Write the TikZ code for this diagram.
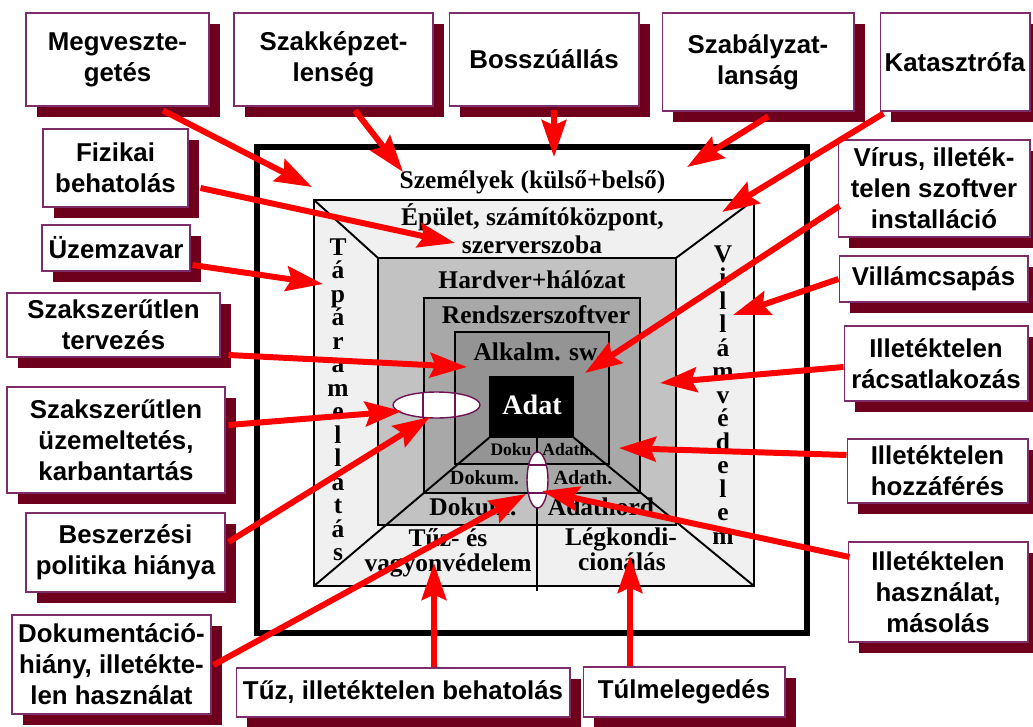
\documentclass[tikz,border=0pt]{standalone}
\usepackage{fontspec}
\setmainfont{Liberation Serif}
\newfontfamily\labelfont{Liberation Sans}
\usetikzlibrary{arrows.meta,calc,shadows,shapes.geometric}

\definecolor{shadowred}{RGB}{110,0,30}
\definecolor{edgepurple}{RGB}{125,45,105}
\definecolor{ringpurple}{RGB}{110,20,85}
\definecolor{layerA}{gray}{0.94}
\definecolor{layerB}{gray}{0.76}
\definecolor{layerC}{gray}{0.66}
\definecolor{layerD}{gray}{0.58}

\tikzstyle{cause} = [rectangle, draw=edgepurple, line width=0.6pt, fill=white,
    align=center, inner sep=0pt, font=\labelfont\bfseries\fontsize{14.7}{17.7}\selectfont,
    drop shadow={shadow xshift=0.22cm, shadow yshift=-0.22cm, fill=shadowred, opacity=1}]
\tikzstyle{threat} = [draw=red, line width=3.4pt, -{Stealth[length=21pt,width=14pt,inset=3pt]}]
\tikzstyle{layertext} = [font=\bfseries\fontsize{14.5}{17}\selectfont, anchor=base, inner sep=0pt]
\tikzstyle{ring} = [ellipse, draw=ringpurple, line width=0.8pt, fill=white, inner sep=0pt]

\begin{document}
\begin{tikzpicture}[x=0.02cm, y=-0.02cm]
	\useasboundingbox (0,0) rectangle (1033,726);

	% layers of protection
	\draw[line width=3.2pt] (257,147) rectangle (807,633);
	\draw[line width=1.1pt, fill=layerA] (314,200) rectangle (754,586);
	\draw[line width=1.1pt, fill=layerB] (378,258) rectangle (676,525);
	\draw[line width=1.1pt, fill=layerC] (424,298) rectangle (640,493);
	\draw[line width=1.1pt, fill=layerD] (455,332) rectangle (609,464);
	\draw[line width=1.1pt, fill=black] (490,377) rectangle (573,437);

	\draw[line width=1.1pt] (314,200) -- (378,258);
	\draw[line width=1.1pt] (754,200) -- (676,258);
	\draw[line width=1.1pt] (490,437) -- (314,586);
	\draw[line width=1.1pt] (573,437) -- (754,586);
	\draw[line width=1.1pt] (537,437) -- (537,591);

	\node[layertext] (persons) at (532.5,189) {Személyek (külső+belső)};
	\node[layertext] (building1) at (532.5,225) {Épület, számítóközpont,};
	\node[layertext] (building2) at (532,253) {szerverszoba};
	\node[layertext] (hardware) at (532,288) {Hardver+hálózat};
	\node[layertext] (system) at (536,323) {Rendszerszoftver};
	\node[layertext] (apps) at (538,360) {Alkalm. sw.};
	\node[layertext, text=white, font=\bfseries\fontsize{16}{19}\selectfont] (data) at (532,414) {Adat};
	\node[layertext, font=\bfseries\fontsize{10}{12}\selectfont] (doc1) at (511,455) {Doku};
	\node[layertext, font=\bfseries\fontsize{10}{12}\selectfont] (arch1) at (568,455) {Adath.};
	\node[layertext, font=\bfseries\fontsize{11.5}{13}\selectfont] (doc2) at (484.5,484) {Dokum.};
	\node[layertext, font=\bfseries\fontsize{11.5}{13}\selectfont] (arch2) at (583,484) {Adath.};
	\node[layertext] (doc3) at (473,515) {Dokum.};
	\node[layertext] (arch3) at (601,515) {Adathord};
	\node[layertext] (fire1) at (448,546) {Tűz- és};
	\node[layertext] (fire2) at (448,571) {vagyonvédelem};
	\node[layertext] (air1) at (621,545) {Légkondi-};
	\node[layertext] (air2) at (622,570) {cionálás};

	\foreach \ch [count=\i] in {T,á,p,á,r,a,m,e,l,l,á,t,á,s}
		\node[layertext] (power\i) at (338,231.5+23.5*\i) {\ch};
	\foreach \ch [count=\i] in {V,i,l,l,á,m,v,é,d,e,l,e,m}
		\node[layertext] (guard\i) at (723,238.5+23.5*\i) {\ch};

	% weak points
	\node[ring, minimum width=1.74cm, minimum height=0.52cm] (hring) at (436.5,405) {};
	\begin{scope}
		\clip (436.5,405) ellipse [x radius=0.87cm, y radius=0.26cm];
		\draw[ringpurple, line width=0.8pt] (423,390) -- (423,420) (455,390) -- (455,420);
	\end{scope}
	\node[ring, minimum width=0.42cm, minimum height=1.12cm] (vring) at (537.5,480) {};
	\begin{scope}
		\clip (537.5,480) ellipse [x radius=0.21cm, y radius=0.56cm];
		\draw[ringpurple, line width=0.8pt] (525,465) -- (550,465) (525,493) -- (550,493);
	\end{scope}

	% threats
	\node[cause, minimum width=3.66cm, minimum height=1.86cm] (bribery) at (117.5,59.5) {Megveszte-\\getés};
	\node[cause, minimum width=3.98cm, minimum height=1.86cm] (unskilled) at (333.5,59.5) {Szakképzet-\\lenség};
	\node[cause, minimum width=3.80cm, minimum height=1.86cm] (revenge) at (544,59.5) {Bosszúállás};
	\node[cause, minimum width=3.84cm, minimum height=1.96cm] (noregs) at (758,62) {Szabályzat-\\lanság};
	\node[cause, minimum width=3.00cm, minimum height=1.96cm] (disaster) at (955,62) {Katasztrófa};
	\node[cause, minimum width=2.90cm, minimum height=1.56cm] (intrusion) at (115.5,168) {Fizikai\\behatolás};
	\node[cause, minimum width=3.84cm, minimum height=1.94cm] (virus) at (934,188.5) {Vírus, illeték-\\telen szoftver\\installáció};
	\node[cause, minimum width=2.96cm, minimum height=0.92cm] (outage) at (116,248) {Üzemzavar};
	\node[cause, minimum width=3.78cm, minimum height=0.92cm] (lightning) at (933.5,279) {Villámcsapás};
	\node[cause, minimum width=4.26cm, minimum height=1.28cm] (baddesign) at (113.5,325) {Szakszerűtlen\\tervezés};
	\node[cause, minimum width=3.68cm, minimum height=1.50cm] (tapping) at (936,363.5) {Illetéktelen\\rácsatlakozás};
	\node[cause, minimum width=4.36cm, minimum height=2.12cm] (badops) at (116,440) {Szakszerűtlen\\üzemeltetés,\\karbantartás};
	\node[cause, minimum width=3.62cm, minimum height=1.28cm] (access) at (937.5,471) {Illetéktelen\\hozzáférés};
	\node[cause, minimum width=3.98cm, minimum height=1.58cm] (purchase) at (125.5,552.5) {Beszerzési\\politika hiánya};
	\node[cause, minimum width=3.60cm, minimum height=2.00cm] (misuse) at (938,592) {Illetéktelen\\használat,\\másolás};
	\node[cause, minimum width=3.98cm, minimum height=1.98cm] (nodocs) at (111.5,664.5) {Dokumentáció-\\hiány, illetékte-\\len használat};
	\node[cause, minimum width=6.68cm, minimum height=0.98cm] (fire) at (403,692.5) {Tűz, illetéktelen behatolás};
	\node[cause, minimum width=4.04cm, minimum height=1.00cm] (overheat) at (684,692) {Túlmelegedés};

	\coordinate (hit1) at (312,187);
	\coordinate (hit2) at (403,172);
	\coordinate (hit3) at (554,157);
	\coordinate (hit4) at (687,167);
	\coordinate (hit5) at (722,212);
	\coordinate (hit6) at (455,243);
	\coordinate (hit7) at (585,373);
	\coordinate (hit8) at (323,284);
	\coordinate (hit9) at (733,315);
	\coordinate (hit10) at (467,367);
	\coordinate (hit11) at (660,383);
	\coordinate (hit12) at (402,411);
	\coordinate (hit13) at (430,417);
	\coordinate (hit14) at (619,448);
	\coordinate (hit15) at (542,491);
	\coordinate (hit16) at (526,494);
	\coordinate (hit17) at (434,563);
	\coordinate (hit18) at (630,556);

	\draw[threat] ($(bribery.south)+(45.5,4)$) -- (hit1);
	\draw[threat] ($(unskilled.south)+(21.5,4)$) -- (hit2);
	\draw[threat] ($(revenge.south)+(10,3)$) -- (hit3);
	\draw[threat] ($(noregs.south)+(10,5)$) -- (hit4);
	\draw[threat] ($(disaster.south west)+(4,2)$) -- (hit5);
	\draw[threat] ($(intrusion.east)+(12,20)$) -- (hit6);
	\draw[threat] ($(virus.west)+(2,17.5)$) -- (hit7);
	\draw[threat] ($(outage.east)+(2,17)$) -- (hit8);
	\draw[threat] (lightning.west) -- (hit9);
	\draw[threat] ($(baddesign.east)+(8,30)$) -- (hit10);
	\draw[threat] ($(tapping.west)+(0,3.5)$) -- (hit11);
	\draw[threat] ($(badops.east)+(3,-15)$) -- (hit12);
	\draw[threat] ($(purchase.east)+(3,-10.5)$) -- (hit13);
	\draw[threat] ($(access.west)+(0,-16)$) -- (hit14);
	\draw[threat] ($(misuse.west)+(2,-35)$) -- (hit15);
	\draw[threat] ($(nodocs.east)+(2,0.5)$) -- (hit16);
	\draw[threat] ($(fire.north)+(31,0)$) -- (hit17);
	\draw[threat] ($(overheat.north)+(-54,0)$) -- (hit18);
\end{tikzpicture}
\end{document}
